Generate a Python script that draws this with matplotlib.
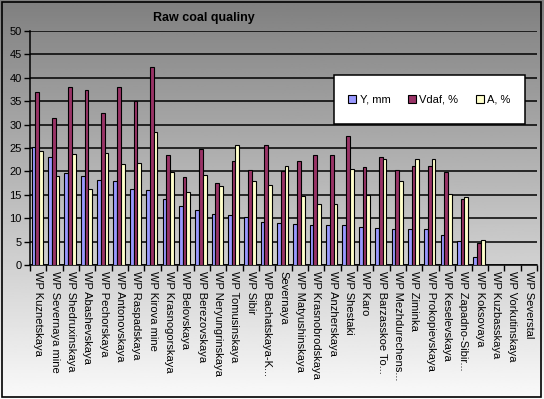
import numpy as np
import matplotlib
matplotlib.use("Agg")
import matplotlib.pyplot as plt
from matplotlib.patches import Rectangle

plt.rcParams['font.family'] = ['Liberation Sans', 'DejaVu Sans']

mines = ["WP Kuznetskaya", "WP Severnaya mine", "WP Shedruxinskaya", "WP Abashevskaya",
         "WP Pechorskaya", "WP Antonovskaya", "WP Raspadskaya", "WP Kirova mine",
         "WP Krasnogorskaya", "WP Belovskaya", "WP Berezovskaya", "WP Neryungrinskaya",
         "WP Tomusinskaya", "WP Sibir", "WP Bachatskaya-K...", "Severnaya",
         "WP Matyushinskaya", "WP Krasnobrodskaya", "WP Anzherskaya", "WP Shestaki",
         "WP Karo", "WP Barzasskoe To...", "WP Mezhdurechens...", "WP Ziminka",
         "WP Prokopievskaya", "WP Keselevskaya", "WP Zapadno-Sibir...", "WP Koksovaya",
         "WP Kuzbasskaya", "WP Vorkutinskaya", "WP Severstal"]

y_mm = [25.2, 23.0, 19.6, 19.1, 18.1, 17.9, 16.3, 16.0, 14.0, 12.7, 11.7, 11.0,
        10.6, 10.2, 9.1, 8.9, 8.7, 8.5, 8.5, 8.5, 8.2, 8.0, 7.8, 7.6, 7.6, 6.5,
        5.2, 1.8, 0, 0, 0]
vdaf = [37.0, 31.4, 38.0, 37.4, 32.5, 38.0, 35.0, 42.4, 23.5, 18.8, 24.8, 17.5,
        22.2, 20.3, 25.6, 20.0, 22.3, 23.5, 23.5, 27.6, 21.0, 23.0, 20.3, 21.2,
        21.2, 19.9, 14.1, 4.8, 0, 0, 0]
ash = [24.3, 19.0, 23.7, 16.2, 23.9, 21.5, 21.8, 28.4, 19.8, 15.5, 19.2, 16.8,
       25.6, 17.9, 17.0, 21.2, 14.7, 13.0, 13.0, 20.5, 15.0, 22.7, 18.0, 22.7,
       22.7, 15.1, 14.5, 5.3, 0, 0, 0]

series = [("Y, mm", y_mm, "#9999FF"),
          ("Vdaf, %", vdaf, "#993366"),
          ("A, %", ash, "#FFFFCC")]

fig = plt.figure(figsize=(5.44, 3.99), dpi=100)

# gray gradient background of the whole chart
bg = fig.add_axes([0, 0, 1, 1], zorder=-10)
grad = np.linspace(0.50, 0.98, 256).reshape(-1, 1)
bg.imshow(grad, aspect="auto", cmap="gray", vmin=0, vmax=1,
          extent=[0, 1, 0, 1], origin="upper")
bg.add_patch(Rectangle((0.003, 0.005), 0.992, 0.99, fill=False,
                       edgecolor="black", linewidth=1.2))
bg.set_xlim(0, 1)
bg.set_ylim(0, 1)
bg.axis("off")

ax = fig.add_axes([0.0551, 0.3358, 0.9320, 0.5865])
ax.patch.set_alpha(0)

x = np.arange(len(mines))
w = 0.23
for i, (name, vals, col) in enumerate(series):
    ax.bar(x + (i - 1) * w - 0.05, vals, width=w, color=col, edgecolor="black",
           linewidth=0.8, label=name, zorder=3)

ax.set_xlim(-0.5, len(mines) - 0.5)
ax.set_ylim(0, 50)
ax.set_yticks(range(0, 51, 5))
ax.yaxis.grid(True, color="black", linewidth=1.1, zorder=1)
ax.set_axisbelow(True)
for s in ["top", "right"]:
    ax.spines[s].set_visible(False)
ax.spines["left"].set_linewidth(1.1)
ax.spines["bottom"].set_linewidth(1.1)

ax.set_xticks(x)
ax.set_xticklabels(mines, rotation=270, fontsize=8, va="top", ha="center")
ax.tick_params(axis="x", length=0, pad=4)
ax.set_xticks(np.arange(-0.5, len(mines) + 0.5, 1), minor=True)
ax.tick_params(axis="x", which="minor", length=4, width=1, direction="out")
ax.tick_params(axis="y", labelsize=8, length=4, width=1, direction="out", pad=2)

fig.text(0.375, 0.955, "Raw coal qualiny", fontsize=9, fontweight="bold",
         ha="center", va="center")

# legend box
lx0, ly0, lw, lh = 334 / 544, 1 - 124 / 399, 191 / 544, 49 / 399
fig.patches.append(Rectangle((lx0, ly0), lw, lh, transform=fig.transFigure,
                             facecolor="white", edgecolor="black", linewidth=1.1,
                             zorder=5))
leg = fig.legend(loc="center", bbox_to_anchor=(lx0 + lw / 2, ly0 + lh / 2),
                 ncol=3, frameon=False, fontsize=8, handlelength=0.7,
                 handleheight=0.7, handletextpad=0.3, columnspacing=1.6)
leg.set_zorder(6)

fig.savefig("out.png", dpi=100)
